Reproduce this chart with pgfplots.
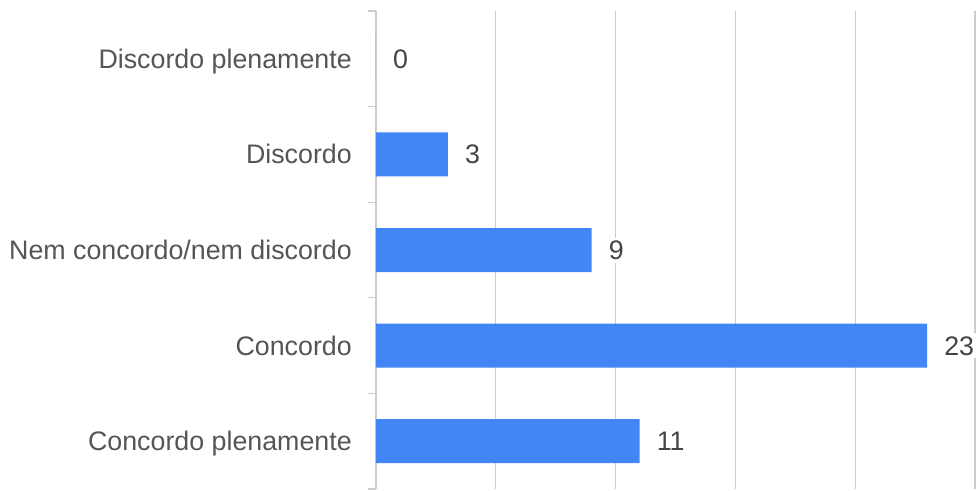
\documentclass[border=0pt]{standalone}
\usepackage{fontspec}
\setmainfont{Liberation Sans}
\usepackage{pgfplots}
\pgfplotsset{compat=1.18}
\definecolor{barblue}{HTML}{4285F4}
\definecolor{gridgray}{HTML}{CCCCCC}
\definecolor{labgray}{HTML}{555555}
\definecolor{valgray}{HTML}{444444}
\begin{document}
\begin{tikzpicture}
\useasboundingbox (-376pt,-1pt) rectangle (601pt,489pt);
\begin{axis}[
  at={(0pt,0pt)}, anchor=south west,
  width=599pt, height=478pt, scale only axis,
  xbar, bar width=44pt,
  xmin=0, xmax=25, ymin=-0.5, ymax=4.5, y dir=reverse,
  axis lines*=left,
  x axis line style={draw=none},
  y axis line style={draw=gridgray, line width=1.3pt},
  xtick={5,10,15,20,25}, xticklabels={},
  xmajorgrids,
  major x grid style={draw=gridgray, line width=1.3pt},
  major tick length=0pt,
  ytick={0,1,2,3,4},
  yticklabels={Discordo plenamente, Discordo, Nem concordo/nem discordo, Concordo, Concordo plenamente},
  minor ytick={-0.5,0.5,1.5,2.5,3.5,4.5},
  minor tick length=8pt,
  minor y tick style={draw=gridgray, line width=1.3pt},
  tick align=outside, ytick pos=left, xtick pos=bottom,
  yticklabel style={anchor=base east, inner sep=0pt, xshift=-24pt, yshift=-9.5pt, text=labgray, font=\fontsize{26.8}{32}\selectfont},
  nodes near coords,
  nodes near coords style={anchor=base west, inner sep=3pt, fill=white, xshift=14pt, yshift=-9.5pt, text=valgray, font=\fontsize{26.8}{32}\selectfont},
  /pgf/number format/assume math mode=true,
  clip=false,
]
\addplot[fill=barblue, draw=none] coordinates {(0,0) (3,1) (9,2) (23,3) (11,4)};
\end{axis}
\end{tikzpicture}
\end{document}
